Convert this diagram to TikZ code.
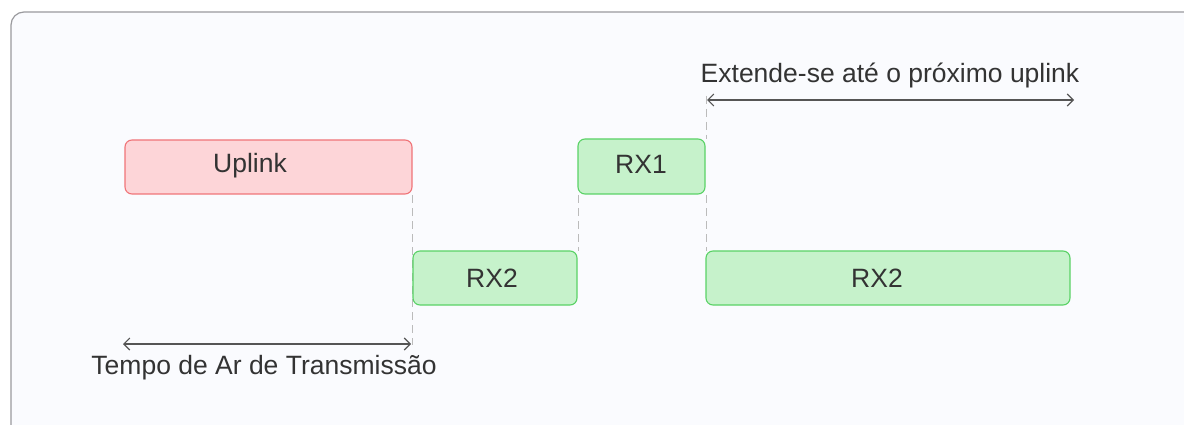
\documentclass[tikz,border=0pt]{standalone}
\usepackage{fontspec}
\setmainfont{Liberation Sans}
\usetikzlibrary{arrows.meta}
\definecolor{pagebg}{HTML}{FFFFFF}
\definecolor{panelbg}{HTML}{FAFBFE}
\definecolor{panelline}{HTML}{9A9A9E}
\definecolor{upfill}{HTML}{FDD5D8}
\definecolor{upline}{HTML}{F07478}
\definecolor{rxfill}{HTML}{C6F2CB}
\definecolor{rxline}{HTML}{5AD266}
\definecolor{txt}{HTML}{333333}
\definecolor{dimline}{HTML}{555555}
\definecolor{guide}{HTML}{BBBBBB}
\tikzset{
  x=1pt, y=-1pt,
  slot/.style={rounded corners=7pt, line width=1.1pt},
  upslot/.style={slot, draw=upline, fill=upfill},
  rxslot/.style={slot, draw=rxline, fill=rxfill},
  lbl/.style={text=txt, font=\fontsize{26.5}{30}\selectfont, inner sep=0pt},
  guideline/.style={draw=guide, line width=1pt, dash pattern=on 8pt off 5pt},
  span/.style={draw=dimline, line width=1.1pt, {Straight Barb[length=6pt,width=12pt]}-{Straight Barb[length=6pt,width=12pt]}}
}
\begin{document}
\begin{tikzpicture}
  % page and panel
  \useasboundingbox (0,0) rectangle (1184,425);
  \fill[pagebg] (0,0) rectangle (1184,425);
  \draw[panelline, fill=panelbg, line width=1.2pt, rounded corners=13pt]
    (11,440) -- (11,12) -- (1200,12) -- (1200,440) -- cycle;

  % guide lines (behind the slots)
  \coordinate (g1top) at (412,195);
  \coordinate (g1bot) at (412,345);
  \coordinate (g2top) at (578,195);
  \coordinate (g2bot) at (578,251);
  \coordinate (g3top) at (706,96);
  \coordinate (g3mid1) at (706,139);
  \coordinate (g3mid2) at (706,195);
  \coordinate (g3bot) at (706,251);
  \path[guideline] (g1top) -- (g1bot);
  \path[guideline] (g2top) -- (g2bot);
  \path[guideline] (g3top) -- (g3mid1);
  \path[guideline] (g3mid2) -- (g3bot);

  % slots
  \draw[upslot] (125,140) rectangle (412,194);
  \node[lbl] (uplink) at (250,166) {Uplink};

  \draw[rxslot] (413,251) rectangle (577,305);
  \node[lbl] (rx2a) at (492,278) {RX2};

  \draw[rxslot] (578,139) rectangle (705,194);
  \node[lbl] (rx1) at (641,164) {RX1};

  \draw[rxslot] (706,251) rectangle (1070,305);
  \node[lbl] (rx2b) at (877,278) {RX2};

  % spans
  \coordinate (s1a) at (123,344);
  \coordinate (s1b) at (411,344);
  \draw[span] (s1a) -- (s1b);
  \node[lbl] (airtime) at (264,368) {Tempo de Ar de Transmissão};

  \coordinate (s2a) at (707,100);
  \coordinate (s2b) at (1074,100);
  \draw[span] (s2a) -- (s2b);
  \node[lbl] (extends) at (890,75) {Extende-se até o próximo uplink};
\end{tikzpicture}
\end{document}
